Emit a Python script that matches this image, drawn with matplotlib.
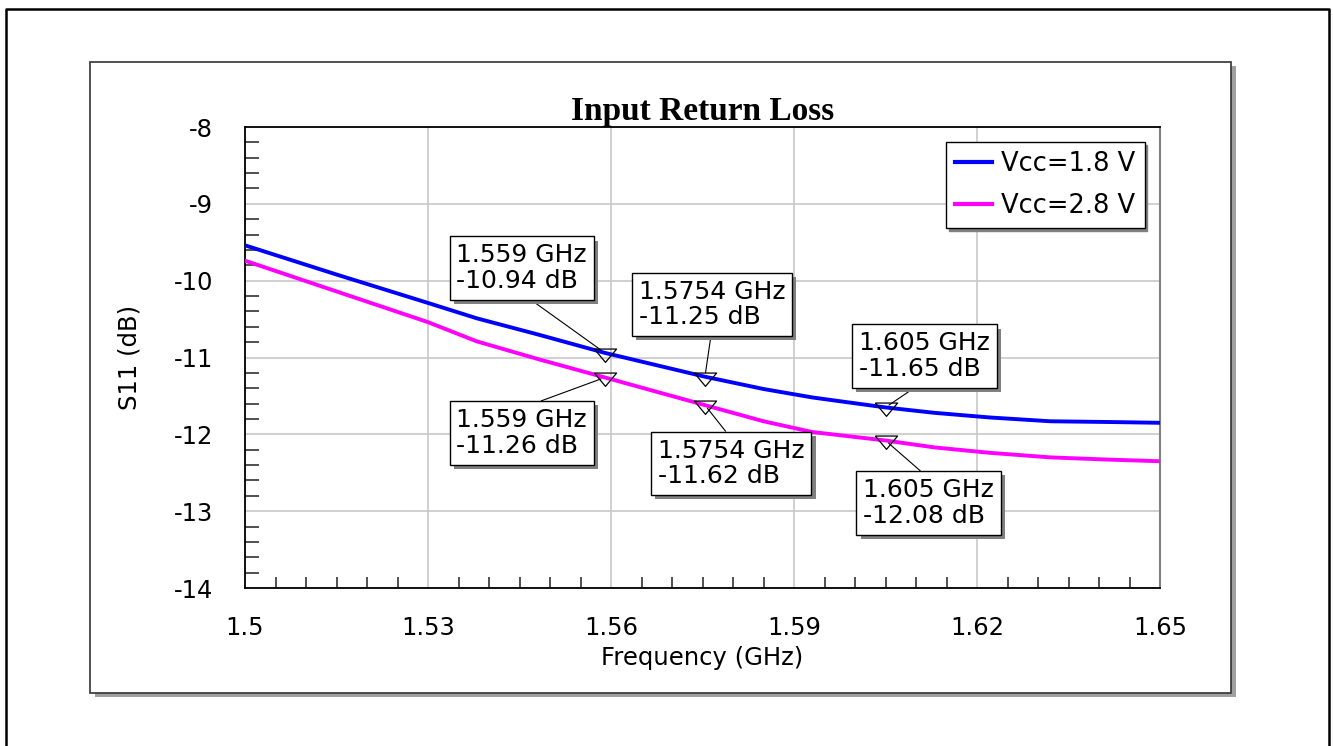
import numpy as np
import matplotlib.pyplot as plt
from matplotlib import ticker
from matplotlib.patches import Rectangle
from matplotlib.lines import Line2D
import matplotlib.patheffects as pe

plt.rcParams['font.family'] = ['DejaVu Sans']
plt.rcParams['axes.unicode_minus'] = False

# S11 curves (GHz, dB)
freq = [1.5, 1.515, 1.53, 1.538, 1.548, 1.559, 1.5754, 1.585, 1.593,
        1.605, 1.613, 1.622, 1.632, 1.642, 1.65]
s11_18 = [-9.54, -9.92, -10.29, -10.49, -10.70, -10.94, -11.25, -11.41, -11.52,
          -11.65, -11.72, -11.78, -11.83, -11.84, -11.85]
s11_28 = [-9.74, -10.14, -10.54, -10.79, -11.02, -11.26, -11.62, -11.83, -11.97,
          -12.08, -12.17, -12.24, -12.30, -12.33, -12.35]
series_labels = ["Vcc=1.8 V", "Vcc=2.8 V"]

# marker readouts
mk_freq = [1.559, 1.5754, 1.605]
mk_18 = [-10.94, -11.25, -11.65]
mk_28 = [-11.26, -11.62, -12.08]

x_ticks = [1.5, 1.53, 1.56, 1.59, 1.62, 1.65]
y_ticks = [-14, -13, -12, -11, -10, -9, -8]

W, H = 1333, 746
fig = plt.figure(figsize=(W / 100, H / 100), dpi=100)

# --- frame, panel with drop shadow ---
fig.add_artist(Line2D([5.5 / W, 5.5 / W, 1329 / W, 1329 / W],
                      [0, 1 - 8.5 / H, 1 - 8.5 / H, 0],
                      color='black', lw=1.8, transform=fig.transFigure))
fig.add_artist(Rectangle((95 / W, 1 - 697 / H), 1141 / W, 631 / H,
                         transform=fig.transFigure, fc='#a0a0a0', ec='none', zorder=-2))
fig.add_artist(Rectangle((90 / W, 1 - 693 / H), 1141 / W, 631 / H,
                         transform=fig.transFigure, fc='white', ec='#333333', lw=1.2, zorder=-1))

ax = fig.add_axes([245 / W, 1 - 588 / H, 915 / W, 461 / H])
ax.set_axisbelow(True)

ax.plot(freq, s11_18, color='#0000ff', lw=2.8, label=series_labels[0], zorder=3)
ax.plot(freq, s11_28, color='#ff00ff', lw=2.8, label=series_labels[1], zorder=3)

# open down-triangle markers
tri = [(-1, 0.4), (1, 0.4), (0, -0.8), (-1, 0.4)]
for vals in (mk_18, mk_28):
    ax.plot(mk_freq, vals, ls='none', marker=tri, markersize=16, mfc='none',
            mec='black', mew=0.9, zorder=4)

# readout boxes
offsets_18 = [(-60, 61), (5, 52), (28, 37)]
offsets_28 = [(-60, -40), (19, -42), (31, -45)]
for vals, offs, rel in ((mk_18, offsets_18, (0.5, 0)), (mk_28, offsets_28, (0.5, 1))):
    for f, v, off in zip(mk_freq, vals, offs):
        ann = ax.annotate(f"{f:g} GHz\n{v:.2f} dB", xy=(f, v), xytext=off,
                          textcoords='offset points', ha='center', va='center',
                          multialignment='left', fontsize=18, linespacing=1.1,
                          bbox=dict(boxstyle='square,pad=0.27', fc='white', ec='black', lw=1),
                          arrowprops=dict(arrowstyle='-', color='black', lw=0.8,
                                          relpos=rel, shrinkA=0, shrinkB=3),
                          zorder=5)
        ann.get_bbox_patch().set_path_effects(
            [pe.withSimplePatchShadow(offset=(3, -3), shadow_rgbFace='0.5', alpha=1)])

ax.set_xlim(1.5, 1.65)
ax.set_ylim(-14, -8)
ax.set_xticks(x_ticks)
ax.set_yticks(y_ticks)
ax.xaxis.set_major_formatter(ticker.FormatStrFormatter('%g'))
ax.yaxis.set_major_formatter(ticker.FormatStrFormatter('%g'))
ax.xaxis.set_minor_locator(ticker.MultipleLocator(0.005))
ax.yaxis.set_minor_locator(ticker.MultipleLocator(0.2))
ax.tick_params(which='major', length=0, labelsize=17.5)
ax.tick_params(axis='x', which='major', pad=20)
ax.tick_params(axis='y', which='major', pad=23)
ax.tick_params(which='minor', direction='in', color='#202020', width=1.1)
ax.tick_params(axis='x', which='minor', length=8)
ax.tick_params(axis='y', which='minor', length=10)
ax.grid(True, which='major', color='#c8c8c8', lw=1.2)

for s in ('left', 'bottom', 'top'):
    ax.spines[s].set_color('black')
    ax.spines[s].set_linewidth(1.3)
ax.spines['right'].set_color('#808080')
ax.spines['right'].set_linewidth(1.5)

ax.set_title("Input Return Loss", family='Liberation Serif', fontweight='bold',
             fontsize=24, pad=4)
ax.set_xlabel("Frequency (GHz)", fontsize=17.5)
ax.set_ylabel("S11 (dB)", fontsize=17.5)
ax.xaxis.set_label_coords(0.5, -0.125)
ax.yaxis.set_label_coords(-0.113, 0.5)

leg = ax.legend(loc='upper right', fontsize=18.5, frameon=True, fancybox=False,
                shadow={'color': '0.5', 'alpha': 1}, borderaxespad=0.6,
                handlelength=1.45, handletextpad=0.35, borderpad=0.35,
                labelspacing=0.6)
leg.get_frame().set_edgecolor('black')
leg.get_frame().set_linewidth(1)
for line in leg.get_lines():
    line.set_linewidth(3)

fig.savefig('out.png', dpi=100)
